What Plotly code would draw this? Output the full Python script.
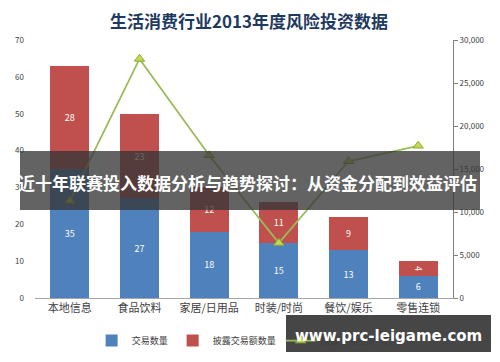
import plotly.graph_objects as go

categories = ["本地信息", "食品饮料", "家居/日用品", "时装/时尚", "餐饮/娱乐", "零售连锁"]
deal_count = [35, 27, 18, 15, 13, 6]
disclosed_count = [28, 23, 12, 11, 9, 4]
disclosed_amount = [11300, 27800, 16600, 6400, 15900, 17700]

title_text = "生活消费行业2013年度风险投资数据"
banner_text = "近十年联赛投入数据分析与趋势探讨：从资金分配到效益评估"
watermark_text = "www.prc-leigame.com"

cjk = "Noto Sans CJK SC"

fig = go.Figure()
fig.add_trace(go.Bar(
    x=categories, y=deal_count, name="交易数量",
    marker=dict(color="#4F81BD", line=dict(width=0)),
    text=deal_count, textposition="inside", insidetextanchor="middle",
    textfont=dict(color="white", size=9, family=cjk),
))
fig.add_trace(go.Bar(
    x=categories, y=disclosed_count, name="披露交易额数量",
    marker=dict(color="#C0504D", line=dict(width=0)),
    text=disclosed_count, textposition="inside", insidetextanchor="middle",
    textfont=dict(color="white", size=9, family=cjk),
))
fig.add_trace(go.Scatter(
    x=categories, y=disclosed_amount, name="披露交易金额（万美元）",
    yaxis="y2", mode="lines+markers",
    line=dict(color="#9BBB59", width=1.8),
    marker=dict(symbol="triangle-up", size=9, color="#C5D84E",
                line=dict(color="#8AA83A", width=1)),
))

# page shows the figure offset by 8px (body margin); compensate
fig.update_layout(
    width=500, height=362,
    barmode="stack", bargap=0.44,
    paper_bgcolor="white", plot_bgcolor="white",
    margin=dict(l=27, r=55, t=32, b=72, autoexpand=False),
    font=dict(family=cjk, size=10, color="#404040"),
    title=dict(text="<b>" + title_text + "</b>", x=(249 - 8) / 500,
               xanchor="center",
               y=1 - 14 / 362, yref="container", yanchor="middle",
               font=dict(family=cjk, size=17, color="#1F3A60")),
    xaxis=dict(showline=True, linecolor="#A6A6A6", linewidth=1,
               tickfont=dict(size=11, color="#404040"), ticks="",
               showgrid=False),
    yaxis=dict(range=[0, 70], dtick=10, showgrid=False, showline=False,
               zeroline=False, tickfont=dict(size=8, color="#404040"),
               ticks="", ticklabelstandoff=10),
    yaxis2=dict(range=[0, 30000], dtick=5000, overlaying="y", side="right",
                showgrid=False, showline=True, linecolor="#808080",
                ticks="outside", ticklen=4, tickcolor="#808080",
                tickformat=",", zeroline=False,
                tickfont=dict(size=8, color="#404040")),
    legend=dict(orientation="h", x=0.535, xanchor="center", y=-0.165,
                yanchor="middle", font=dict(size=9, color="#404040"),
                traceorder="normal", bgcolor="rgba(0,0,0,0)"),
    showlegend=True,
)

# overlay banner
fig.add_shape(type="rect", xref="paper", yref="paper",
              x0=(20 - 35) / 418, x1=(480 - 35) / 418,
              y0=(298 - 210) / 258, y1=(298 - 151) / 258,
              fillcolor="rgba(55,55,55,0.78)", line=dict(width=0), layer="above")
fig.add_annotation(xref="paper", yref="paper",
                   x=(247 - 35) / 418, y=(298 - 182) / 258,
                   text="<b>" + banner_text + "</b>", showarrow=False,
                   font=dict(family=cjk, size=17, color="white"))

# watermark
fig.add_shape(type="rect", xref="paper", yref="paper",
              x0=(286 - 35) / 418, x1=(491 - 35) / 418,
              y0=(298 - 352) / 258, y1=(298 - 315) / 258,
              fillcolor="rgba(50,50,50,0.9)", line=dict(width=0), layer="above")
fig.add_annotation(xref="paper", yref="paper",
                   x=(388 - 35) / 418, y=(298 - 336) / 258,
                   xanchor="center", yanchor="middle",
                   text="<b>" + watermark_text + "</b>", showarrow=False,
                   font=dict(family="DejaVu Sans", size=15, color="white"))

fig.write_html("out.html")
